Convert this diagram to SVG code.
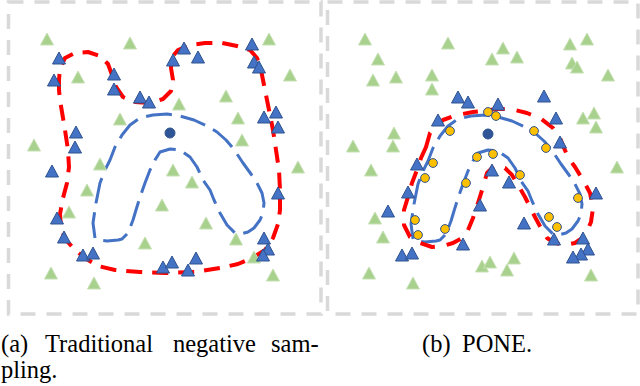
<svg xmlns="http://www.w3.org/2000/svg" xmlns:xlink="http://www.w3.org/1999/xlink" width="640" height="386" viewBox="0 0 640 386">
<style>
.frame{fill:none;stroke:#D9D9D9;stroke-width:3.5;stroke-dasharray:15 11}
.arch{fill:none;stroke:#4472C4;stroke-width:3;stroke-dasharray:26 9;stroke-linejoin:round}
.red{fill:none;stroke:#FF0000;stroke-width:4;stroke-linejoin:round}
.redA{stroke-dasharray:16 10}
.redB{stroke-dasharray:15 12}
.dot{fill:#2F5597;stroke:#2F528F;stroke-width:1}
.yel{fill:#FFC000;stroke:#2F528F;stroke-width:1}
.cap{font-family:"Liberation Serif","Times New Roman",serif;font-size:24.5px;fill:#000}
</style>
<defs>
<polygon id="g" points="0,-6 6.5,6 -6.5,6" fill="#A9D18E" stroke="#C5E0B4" stroke-width="1"/>
<polygon id="b" points="0,-6 6.5,6 -6.5,6" fill="#4472C4" stroke="#2F528F" stroke-width="1"/>
<circle id="y" r="4.4" class="yel"/>
<path id="archPath" class="arch" d="M95,238 L93,223 L96,203 L100,183 L105,170 L110,160 L115,147 L122,135 L130,125 L140,118 L153,115 L167,114 L180,116 L194,120 L207,126 L217,132 L226,140 L233,148 L243,163 L251,174 L257,183 L262,193 L264,203 L263,213 L260,220 L254,228 L248,232 L240,234 L235,233 L227,225 L220,213 L214,200 L210,190 L203,180 L197,167 L190,157 L180,150 L170,149 L160,152 L155,160 L150,170 L145,183 L140,197 L136,210 L133,220 L128,233 L122,239 L118,240 L107,241 L98,240 Z"/>
</defs>

<g id="frames">
<rect class="frame" x="8.5" y="2" width="312.5" height="312"/>
<rect class="frame" x="327.5" y="2" width="310.5" height="312"/>
</g>

<g id="panel-a">
<use xlink:href="#archPath" href="#archPath"/>
<path class="red redA" d="M59,90 L59,80 L60,68 L65,58 L75,53 L88,52 L100,56 L108,64 L112,75 L116,87 L123,97 L135,102 L150,103 L163,99 L171,91 L173,80 L171,68 L172,57 L178,50 L190,45 L205,43 L222,43 L237,46 L250,50 L257,58 L261,70 L264,85 L267,100 L270,115 L273,130 L276,150 L279,170 L280,190 L280,210 L278,224 L273,238 L265,250 L252,258 L238,264 L220,268 L195,272 L165,273 L140,272 L115,270 L98,266 L85,258 L75,250 L66,240 L61,228 L60,214 L63,198 L67,183 L69,167 L68,150 L65,130 L62,112 L60,100 Z"/>
<g id="a-green">
<use href="#g" x="47" y="39"/><use href="#g" x="130" y="43"/><use href="#g" x="78" y="77"/><use href="#g" x="269" y="39"/><use href="#g" x="290" y="75"/><use href="#g" x="226" y="96"/><use href="#g" x="179" y="104"/><use href="#g" x="120" y="119"/><use href="#g" x="238" y="118"/><use href="#g" x="242" y="140"/><use href="#g" x="34" y="145"/><use href="#g" x="100" y="164"/><use href="#g" x="173" y="170"/><use href="#g" x="192" y="182"/><use href="#g" x="87" y="190"/><use href="#g" x="162" y="205"/><use href="#g" x="69" y="212"/><use href="#g" x="206" y="223"/><use href="#g" x="298" y="167"/><use href="#g" x="145" y="243"/><use href="#g" x="236" y="239"/><use href="#g" x="254" y="257"/><use href="#g" x="51" y="273"/><use href="#g" x="94" y="283"/><use href="#g" x="273" y="275"/>
</g>
<g id="a-blue">
<use href="#b" x="59" y="58"/><use href="#b" x="54" y="80"/><use href="#b" x="114" y="74"/><use href="#b" x="114" y="89"/><use href="#b" x="140" y="97"/><use href="#b" x="149" y="102"/><use href="#b" x="184" y="48"/><use href="#b" x="173" y="60"/><use href="#b" x="198" y="57"/><use href="#b" x="252" y="44"/><use href="#b" x="254" y="62"/><use href="#b" x="259" y="67"/><use href="#b" x="264" y="117"/><use href="#b" x="276" y="112"/><use href="#b" x="278" y="127"/><use href="#b" x="76" y="132"/><use href="#b" x="75" y="147"/><use href="#b" x="52" y="171"/><use href="#b" x="278" y="193"/><use href="#b" x="57" y="218"/><use href="#b" x="64" y="237"/><use href="#b" x="83" y="255"/><use href="#b" x="93" y="253"/><use href="#b" x="163" y="267"/><use href="#b" x="172" y="262"/><use href="#b" x="188" y="270"/><use href="#b" x="196" y="258"/><use href="#b" x="264" y="238"/><use href="#b" x="268" y="249"/><use href="#b" x="263" y="255"/>
</g>
<circle id="a-center" class="dot" cx="170" cy="133" r="5"/>
</g>

<g id="panel-b">
<use href="#archPath" transform="translate(318,1)"/>
<path class="red redB" d="M426,147 L430,133 L443,120 L457,115 L473,112 L497,109 L511,109 L527,113 L540,118 L553,128 L560,138 L564,148 L568,157 L575,167 L583,180 L590,193 L593,208 L591,222 L585,236 L575,243 L565,245 L555,243 L547,238 L542,230 L535,217 L530,207 L525,197 L518,185 L512,175 L505,168 L494,166 L487,173 L483,187 L478,203 L473,218 L468,230 L462,238 L453,243 L443,246 L432,247 L420,243 L410,237 L404,225 L404,210 L408,197 L412,183 L417,170 L421,158 Z"/>
<g id="b-green">
<use href="#g" x="365" y="39"/><use href="#g" x="378" y="59"/><use href="#g" x="373" y="80"/><use href="#g" x="396" y="77"/><use href="#g" x="448" y="43"/><use href="#g" x="432" y="75"/><use href="#g" x="432" y="89"/><use href="#g" x="503" y="48"/><use href="#g" x="517" y="57"/><use href="#g" x="492" y="59"/><use href="#g" x="570" y="44"/><use href="#g" x="587" y="39"/><use href="#g" x="572" y="63"/><use href="#g" x="577" y="67"/><use href="#g" x="608" y="75"/><use href="#g" x="583" y="118"/><use href="#g" x="594" y="113"/><use href="#g" x="596" y="127"/><use href="#g" x="394" y="133"/><use href="#g" x="393" y="146"/><use href="#g" x="353" y="146"/><use href="#g" x="371" y="170"/><use href="#g" x="617" y="167"/><use href="#g" x="375" y="218"/><use href="#g" x="383" y="237"/><use href="#g" x="482" y="266"/><use href="#g" x="490" y="262"/><use href="#g" x="514" y="258"/><use href="#g" x="507" y="270"/><use href="#g" x="369" y="273"/><use href="#g" x="413" y="283"/><use href="#g" x="591" y="275"/>
</g>
<g id="b-blue">
<use href="#b" x="458" y="97"/><use href="#b" x="468" y="102"/><use href="#b" x="498" y="104"/><use href="#b" x="544" y="96"/><use href="#b" x="438" y="120"/><use href="#b" x="556" y="118"/><use href="#b" x="560" y="142"/><use href="#b" x="417" y="164"/><use href="#b" x="408" y="192"/><use href="#b" x="388" y="211"/><use href="#b" x="492" y="170"/><use href="#b" x="509" y="182"/><use href="#b" x="480" y="205"/><use href="#b" x="524" y="223"/><use href="#b" x="596" y="193"/><use href="#b" x="463" y="244"/><use href="#b" x="402" y="255"/><use href="#b" x="412" y="253"/><use href="#b" x="554" y="239"/><use href="#b" x="583" y="238"/><use href="#b" x="588" y="249"/><use href="#b" x="581" y="254"/><use href="#b" x="573" y="257"/>
</g>
<circle id="b-center" class="dot" cx="488" cy="134" r="5"/>
<g id="b-yellow">
<use href="#y" x="450" y="131"/><use href="#y" x="488" y="112"/><use href="#y" x="496" y="116"/><use href="#y" x="534" y="131"/><use href="#y" x="546" y="148"/><use href="#y" x="433" y="163"/><use href="#y" x="425" y="178"/><use href="#y" x="477" y="157"/><use href="#y" x="493" y="154"/><use href="#y" x="520" y="175"/><use href="#y" x="466" y="183"/><use href="#y" x="578" y="198"/><use href="#y" x="415" y="220"/><use href="#y" x="418" y="235"/><use href="#y" x="445" y="229"/><use href="#y" x="549" y="217"/><use href="#y" x="557" y="227"/>
</g>
</g>

<g id="captions">
<text class="cap" y="352"><tspan x="1">(a)</tspan><tspan x="45">Traditional</tspan><tspan x="173">negative</tspan><tspan x="271">sam-</tspan></text>
<text class="cap" x="1" y="378">pling.</text>
<text class="cap" y="352"><tspan x="422">(b)</tspan><tspan x="462">PONE.</tspan></text>
</g>
</svg>
